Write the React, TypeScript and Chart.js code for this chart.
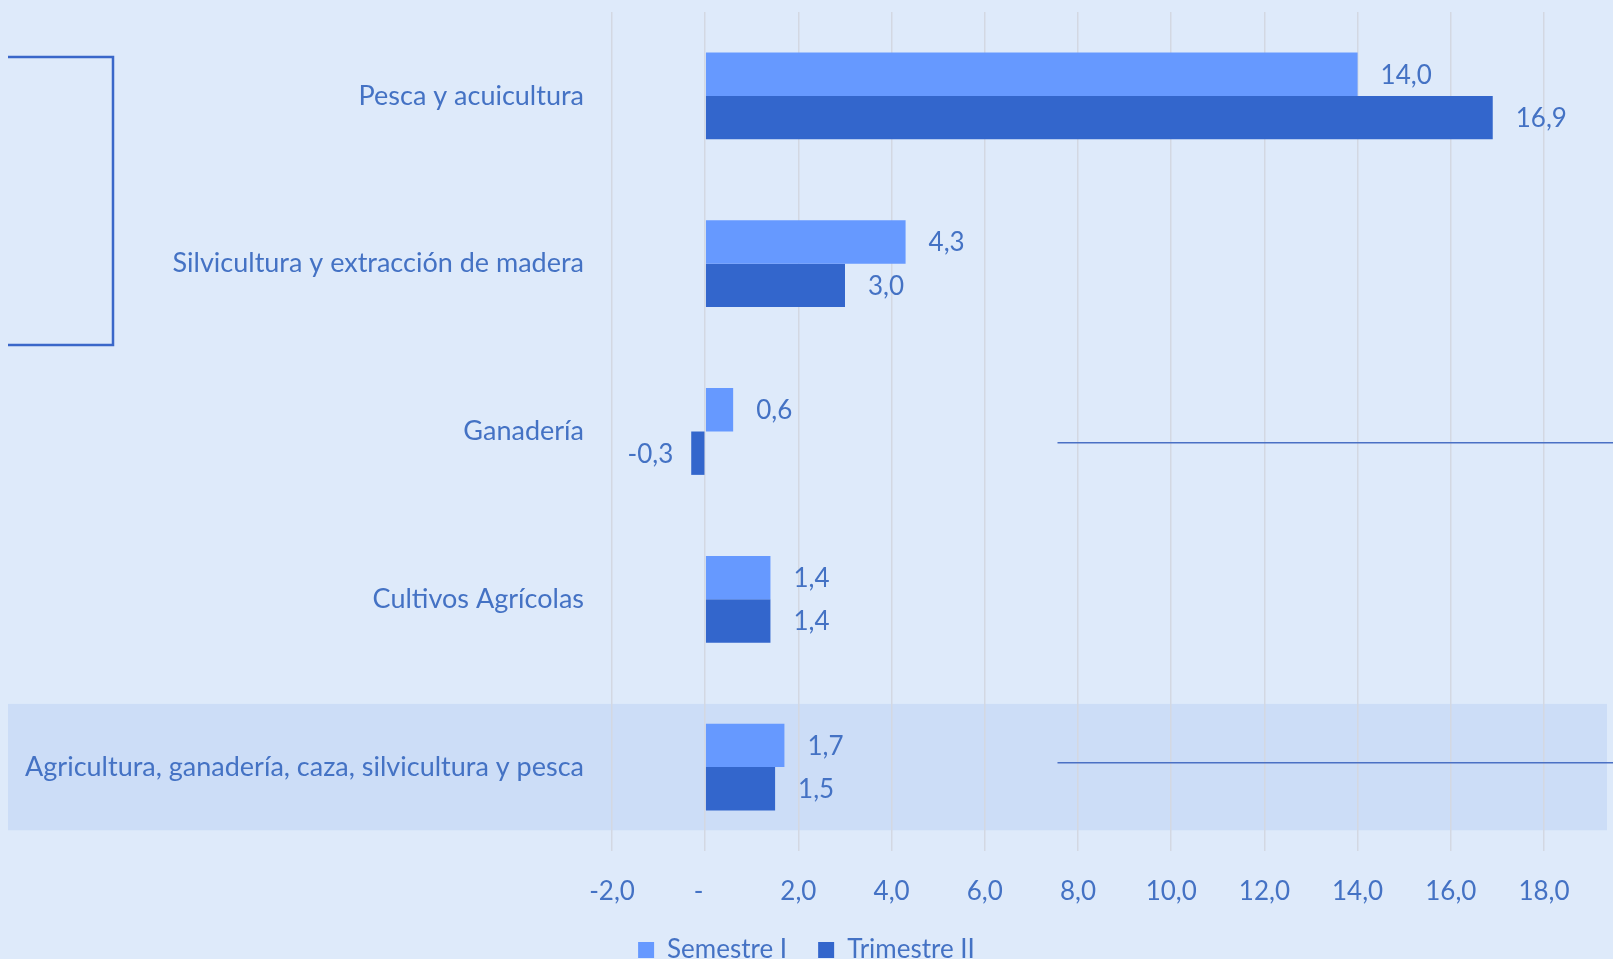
import React, { useEffect, useRef } from "react";
import { Chart, registerables } from "chart.js";

Chart.register(...registerables);

const categories = [
  "Pesca y acuicultura",
  "Silvicultura y extracción de madera",
  "Ganadería",
  "Cultivos Agrícolas",
  "Agricultura, ganadería, caza, silvicultura y pesca",
];
const semestreI = [14.0, 4.3, 0.6, 1.4, 1.7];
const trimestreII = [16.9, 3.0, -0.3, 1.4, 1.5];
const seriesNames = ["Semestre I", "Trimestre II"];
const xMin = -2;
const xMax = 18;
const xStep = 2;

const BG = "#DEEAFA";
const BAND = "#CCDDF7";
const TEXT = "#4472C4";
const C1 = "#6699FF";
const C2 = "#3366CC";
const FONT = "Lato";
const FS = 26;
const FS_CAT = 27;

const W = 1613;
const H = 973;

const fmt = (v: number) => v.toFixed(1).replace(".", ",");

const decor = {
  id: "decor",
  beforeDraw(chart: any) {
    const { ctx } = chart;
    ctx.save();
    ctx.fillStyle = BG;
    ctx.fillRect(0, 0, chart.width, chart.height);
    const y = chart.scales.y;
    const cy = y.getPixelForValue(4);
    const band = (y.getPixelForValue(1) - y.getPixelForValue(0)) * 0.753;
    ctx.fillStyle = BAND;
    ctx.fillRect(8, cy - band / 2, 1599, band);
    ctx.restore();
  },
  afterDraw(chart: any) {
    const { ctx } = chart;
    const x = chart.scales.x;
    const y = chart.scales.y;
    const step = y.getPixelForValue(1) - y.getPixelForValue(0);
    ctx.save();
    ctx.strokeStyle = "#4A70C4";
    ctx.lineWidth = 1.5;
    const x0 = x.getPixelForValue(7.56);
    [y.getPixelForValue(2) + step * 0.067, y.getPixelForValue(4) - step * 0.026].forEach((yy: number) => {
      ctx.beginPath();
      ctx.moveTo(x0, yy);
      ctx.lineTo(chart.width, yy);
      ctx.stroke();
    });
    ctx.strokeStyle = "#3A67C9";
    ctx.lineWidth = 2.5;
    ctx.beginPath();
    ctx.moveTo(8, 57);
    ctx.lineTo(113, 57);
    ctx.lineTo(113, 345);
    ctx.lineTo(8, 345);
    ctx.stroke();
    ctx.restore();
  },
};

const dataLabels = {
  id: "dataLabels",
  afterDatasetsDraw(chart: any) {
    const { ctx } = chart;
    ctx.save();
    ctx.font = `${FS}px ${FONT}`;
    ctx.fillStyle = TEXT;
    ctx.textBaseline = "middle";
    chart.data.datasets.forEach((ds: any, i: number) => {
      const meta = chart.getDatasetMeta(i);
      meta.data.forEach((bar: any, j: number) => {
        const v = ds.data[j];
        const { x, y } = bar.getProps(["x", "y"], true);
        if (v >= 0) {
          ctx.textAlign = "left";
          ctx.fillText(fmt(v), x + 23, y + 1);
        } else {
          ctx.textAlign = "right";
          ctx.fillText(fmt(v), x - 18, y + 1);
        }
      });
    });
    ctx.restore();
  },
};

export default function App() {
  const ref = useRef<HTMLCanvasElement>(null);
  useEffect(() => {
    if (!ref.current) return;
    Chart.defaults.font.family = FONT;
    Chart.defaults.font.size = FS;
    Chart.defaults.color = TEXT;
    const chart = new Chart(ref.current, {
      type: "bar",
      data: {
        labels: categories,
        datasets: [
          {
            label: seriesNames[0],
            data: semestreI,
            backgroundColor: C1,
            categoryPercentage: 0.517,
            barPercentage: 1,
          },
          {
            label: seriesNames[1],
            data: trimestreII,
            backgroundColor: C2,
            categoryPercentage: 0.517,
            barPercentage: 1,
          },
        ],
      },
      options: {
        indexAxis: "y",
        animation: false,
        responsive: false,
        devicePixelRatio: 1,
        layout: { padding: { top: 12, right: 0, left: 0, bottom: 0 } },
        scales: {
          x: {
            min: xMin,
            max: xMax,
            ticks: {
              stepSize: xStep,
              padding: 25,
              color: TEXT,
              font: { family: FONT, size: FS },
              callback: (v: any) => (Number(v) === 0 ? "-  " : fmt(Number(v))),
            },
            grid: { color: "#D3D8E2", lineWidth: 1.5, drawTicks: false },
            border: { display: false },
            afterFit: (s: any) => {
              s.height = 55;
            },
          },
          y: {
            ticks: {
              padding: 28,
              color: TEXT,
              autoSkip: false,
              font: { family: FONT, size: FS_CAT },
            },
            grid: { display: false, drawTicks: false },
            border: { display: false },
            afterFit: (s: any) => {
              s.width = 612;
              s.paddingTop = 0;
              s.paddingBottom = 0;
            },
          },
          yRight: {
            type: "linear",
            position: "right",
            display: true,
            ticks: { display: false },
            grid: { display: false, drawTicks: false },
            border: { display: false },
            afterFit: (s: any) => {
              s.width = 69;
              s.paddingTop = 0;
              s.paddingBottom = 0;
            },
          },
        },
        plugins: {
          legend: {
            position: "bottom",
            labels: {
              boxWidth: 16,
              boxHeight: 16,
              padding: 31,
              color: TEXT,
              font: { family: FONT, size: FS },
            },
          },
          tooltip: { enabled: false },
        },
      },
      plugins: [decor, dataLabels],
    });
    return () => chart.destroy();
  }, []);
  return (
    <div
      style={{
        position: "fixed",
        left: 0,
        top: 0,
        width: W,
        height: 959,
        overflow: "hidden",
        background: BG,
      }}
    >
      <canvas ref={ref} width={W} height={H} style={{ display: "block", width: W, height: H }} />
    </div>
  );
}
